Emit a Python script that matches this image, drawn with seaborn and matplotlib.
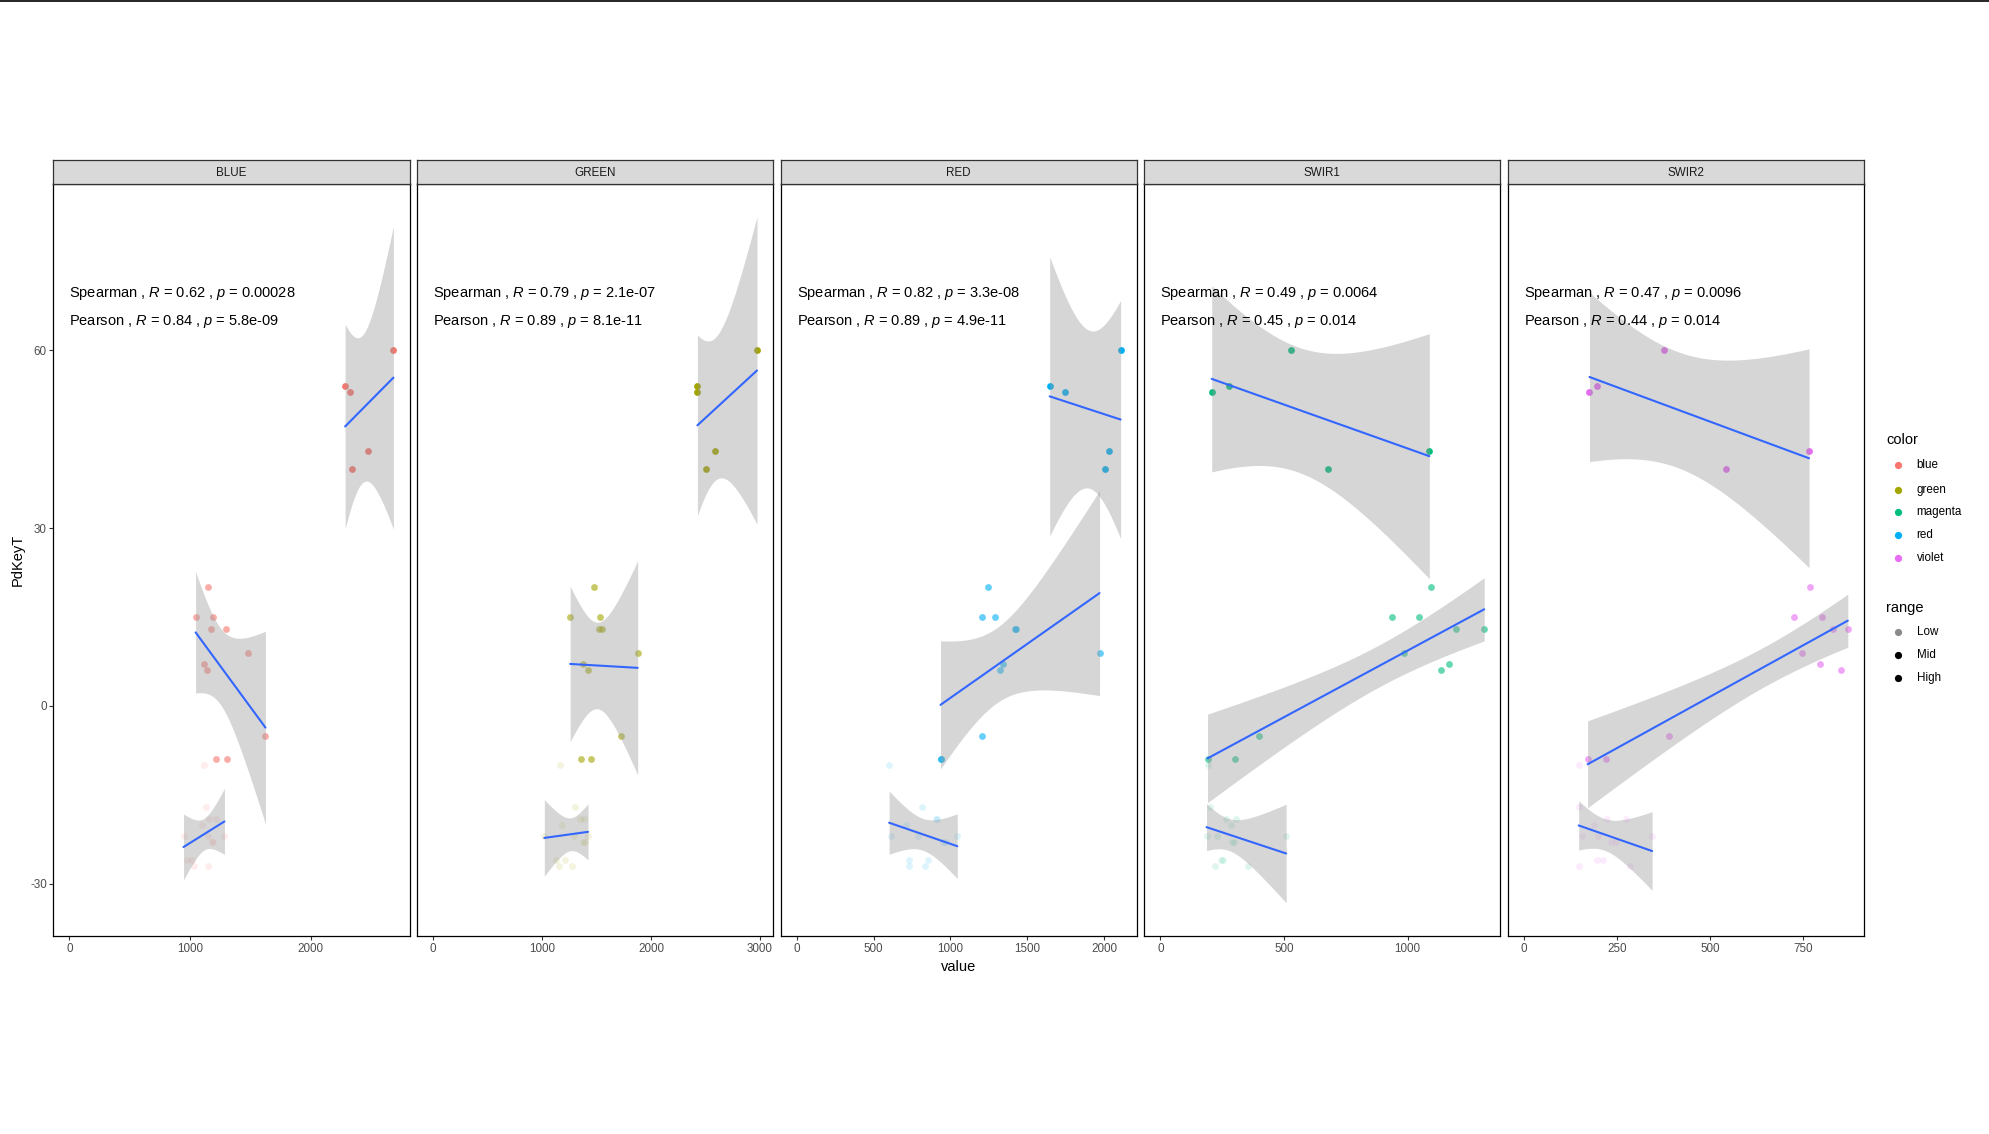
import numpy as np
import pandas as pd
import matplotlib
matplotlib.use("Agg")
import matplotlib.pyplot as plt
import seaborn as sns
from matplotlib.lines import Line2D

sns.set_theme(style="white")
plt.rcParams["font.family"] = ["Liberation Sans", "DejaVu Sans"]
plt.rcParams["mathtext.fontset"] = "custom"
plt.rcParams["mathtext.rm"] = "Liberation Sans"
plt.rcParams["mathtext.it"] = "Liberation Sans:italic"

# ---------------- data ----------------
bands = ["BLUE", "GREEN", "RED", "SWIR1", "SWIR2"]
band_color_level = ["blue", "green", "red", "magenta", "violet"]
legend_levels = ["blue", "green", "magenta", "red", "violet"]
palette = {"blue": "#F8766D", "green": "#A3A500", "magenta": "#00BF7D",
           "red": "#00B0F6", "violet": "#E76BF3"}
range_levels = ["Low", "Mid", "High"]

pdkeyt = [60, 54, 53, 43, 40,
          20, 15, 15, 13, 13, 9, 7, 6, -5, -9, -9,
          -10, -17, -19, -19, -20, -22, -22, -22, -23, -23, -26, -26, -27, -27]
range_lab = ["High"] * 5 + ["Mid"] * 11 + ["Low"] * 14

x_blue = [2684, 2284, 2328, 2477, 2345,
          1144, 1045, 1185, 1169, 1293, 1475, 1111, 1136, 1624, 1218, 1309,
          1111, 1127, 1152, 1218, 1094, 945, 1144, 1284, 1177, 1193, 970, 1011, 1028, 1144]
x_green = [2973, 2426, 2426, 2590, 2508,
           1477, 1258, 1532, 1523, 1550, 1878, 1377, 1422, 1723, 1359, 1450,
           1167, 1304, 1350, 1386, 1185, 1021, 1295, 1422, 1377, 1390, 1131, 1213, 1158, 1277]
x_red = [2106, 1645, 1743, 2028, 2002,
         1243, 1204, 1288, 1420, 1425, 1969, 1342, 1321, 1204, 935, 940,
         601, 815, 905, 912, 711, 614, 789, 1044, 953, 970, 731, 854, 731, 834]
x_swir1 = [529, 276, 208, 1088, 678,
           1093, 937, 1048, 1197, 1310, 984, 1169, 1137, 401, 191, 304,
           191, 200, 264, 308, 284, 187, 228, 509, 292, 300, 244, 252, 220, 356]
x_swir2 = [376, 197, 176, 765, 541,
           768, 725, 800, 829, 869, 746, 794, 850, 389, 171, 221,
           147, 147, 224, 275, 189, 157, 200, 344, 235, 248, 195, 213, 149, 285]
band_values = [x_blue, x_green, x_red, x_swir1, x_swir2]

spearman_labels = [
    r"Spearman , $\it{R}$ = 0.62 , $\it{p}$ = 0.00028",
    r"Spearman , $\it{R}$ = 0.79 , $\it{p}$ = 2.1e-07",
    r"Spearman , $\it{R}$ = 0.82 , $\it{p}$ = 3.3e-08",
    r"Spearman , $\it{R}$ = 0.49 , $\it{p}$ = 0.0064",
    r"Spearman , $\it{R}$ = 0.47 , $\it{p}$ = 0.0096",
]
pearson_labels = [
    r"Pearson , $\it{R}$ = 0.84 , $\it{p}$ = 5.8e-09",
    r"Pearson , $\it{R}$ = 0.89 , $\it{p}$ = 8.1e-11",
    r"Pearson , $\it{R}$ = 0.89 , $\it{p}$ = 4.9e-11",
    r"Pearson , $\it{R}$ = 0.45 , $\it{p}$ = 0.014",
    r"Pearson , $\it{R}$ = 0.44 , $\it{p}$ = 0.014",
]
x_ticks = [[0, 1000, 2000], [0, 1000, 2000, 3000], [0, 500, 1000, 1500, 2000],
           [0, 500, 1000], [0, 250, 500, 750]]
y_ticks = [-30, 0, 30, 60]

rows = []
for b, lev, xs in zip(bands, band_color_level, band_values):
    for xv, yv, r in zip(xs, pdkeyt, range_lab):
        rows.append({"band": b, "color": lev, "value": xv, "PdKeyT": yv, "range": r})
df = pd.DataFrame(rows)

# ---------------- style ----------------
alpha_map = {"Low": 0.13, "Mid": 0.6, "High": 1.0}
T975 = {3: 3.182446, 9: 2.262157, 12: 2.178813}

W, H = 1989, 1134
fig = plt.figure(figsize=(W / 100, H / 100), dpi=100)

panel_top, panel_bot = 183.5, 936.0
strip_top = 160.0
pw = 356.3
lefts = [53.3 + i * 363.6 for i in range(5)]
ylim = (-38.8, 88.1)


def lm_ci(x, y, n=80):
    x = np.asarray(x, float)
    y = np.asarray(y, float)
    b1, b0 = np.polyfit(x, y, 1)
    xs = np.linspace(x.min(), x.max(), n)
    yh = b0 + b1 * xs
    res = y - (b0 + b1 * x)
    k = len(x)
    s = np.sqrt(np.sum(res ** 2) / (k - 2))
    xm = x.mean()
    sxx = np.sum((x - xm) ** 2)
    se = s * np.sqrt(1.0 / k + (xs - xm) ** 2 / sxx)
    t = T975[k - 2]
    return xs, yh, yh - t * se, yh + t * se


for i, b in enumerate(bands):
    sub = df[df["band"] == b]
    col = palette[band_color_level[i]]
    ax = fig.add_axes([lefts[i] / W, 1 - panel_bot / H, pw / W, (panel_bot - panel_top) / H])
    for r in range_levels:
        s = sub[sub["range"] == r]
        sns.scatterplot(data=s, x="value", y="PdKeyT", color=col, alpha=alpha_map[r],
                        s=24, linewidth=0, ax=ax, legend=False, zorder=2)
    for r in range_levels:
        s = sub[sub["range"] == r]
        xs, yh, lo, hi = lm_ci(s["value"], s["PdKeyT"])
        ax.fill_between(xs, lo, hi, color="#999999", alpha=0.4, linewidth=0, zorder=3)
        sns.lineplot(x=xs, y=yh, color="#3366FF", linewidth=1.5, ax=ax, zorder=4)
    xmax = sub["value"].max()
    ax.set_xlim(-0.05 * xmax, 1.05 * xmax)
    ax.set_ylim(*ylim)
    ax.set_xticks(x_ticks[i])
    ax.set_xticklabels([str(t) for t in x_ticks[i]])
    ax.set_yticks(y_ticks)
    ax.set_xlabel("")
    ax.set_ylabel("")
    ax.tick_params(axis="x", bottom=True, length=2.7, width=0.8, color="#333333",
                   labelsize=8.4, labelcolor="#4D4D4D", pad=2)
    if i == 0:
        ax.set_yticklabels([str(t) for t in y_ticks])
        ax.tick_params(axis="y", left=True, length=2.7, width=0.8, color="#333333",
                       labelsize=8.4, labelcolor="#4D4D4D", pad=2)
    else:
        ax.tick_params(axis="y", left=False, labelleft=False)
    for sp in ax.spines.values():
        sp.set_color("black")
        sp.set_linewidth(0.9)
    ax.text(0, 69.6, spearman_labels[i], ha="left", va="center", fontsize=10.5, color="black", zorder=5)
    ax.text(0, 64.8, pearson_labels[i], ha="left", va="center", fontsize=10.5, color="black", zorder=5)

    sax = fig.add_axes([lefts[i] / W, 1 - panel_top / H, pw / W, (panel_top - strip_top) / H])
    sax.set_facecolor("#D9D9D9")
    sax.set_xticks([])
    sax.set_yticks([])
    for sp in sax.spines.values():
        sp.set_color("#333333")
        sp.set_linewidth(0.9)
    sax.text(0.5, 0.45, b, ha="center", va="center", fontsize=8.4, color="#1A1A1A",
             transform=sax.transAxes)

# axis titles
fig.text(958.8 / W, 1 - 966.6 / H, "value", ha="center", va="center", fontsize=10.5, color="black")
fig.text(17.8 / W, 1 - 559.7 / H, "PdKeyT", ha="center", va="center", rotation=90,
         fontsize=10.5, color="black")

# legend
fig.text(1886 / W, 1 - 440 / H, "color", ha="left", va="center", fontsize=10.5, color="black")
for lev, yy in zip(legend_levels, [465, 489.6, 512.4, 535.1, 557.8]):
    fig.add_artist(Line2D([1898 / W], [1 - yy / H], marker="o", markersize=5.2, linestyle="none",
                          markerfacecolor=palette[lev], markeredgewidth=0,
                          transform=fig.transFigure))
    fig.text(1916.5 / W, 1 - yy / H, lev, ha="left", va="center", fontsize=8.4, color="black")
fig.text(1886 / W, 1 - 607.7 / H, "range", ha="left", va="center", fontsize=10.5, color="black")
for lev, yy, c in zip(range_levels, [632.3, 655.3, 678.3], ["#8A8A8A", "black", "black"]):
    fig.add_artist(Line2D([1898 / W], [1 - yy / H], marker="o", markersize=5.2, linestyle="none",
                          markerfacecolor=c, markeredgewidth=0, transform=fig.transFigure))
    fig.text(1916.5 / W, 1 - yy / H, lev, ha="left", va="center", fontsize=8.4, color="black")

# thin border line at very top of the image
fig.add_artist(Line2D([0, 1], [1 - 0.8 / H, 1 - 0.8 / H], color="black", linewidth=1.2,
                      transform=fig.transFigure))

fig.savefig("out.png", dpi=100, facecolor="white")
